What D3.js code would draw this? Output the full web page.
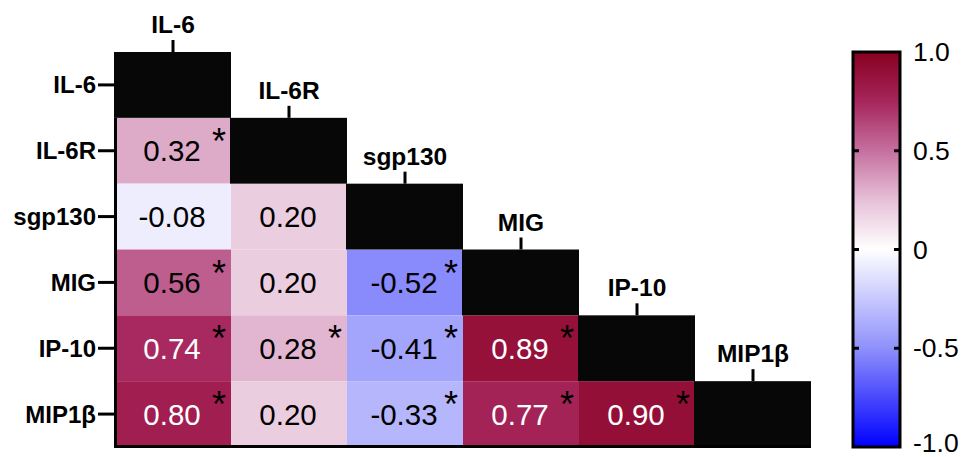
<!DOCTYPE html>
<html>
<head>
<meta charset="utf-8">
<script src="https://cdn.jsdelivr.net/npm/d3@7"></script>
<style>
  body { margin: 0; background: #fff; }
  text { font-family: "Liberation Sans", Arial, sans-serif; }
</style>
</head>
<body>
<svg id="chart" width="968" height="457"></svg>
<script>
// variables, same order on both axes
var labels = ['IL-6', 'IL-6R', 'sgp130', 'MIG', 'IP-10', 'MIP1\u03b2'];

// lower triangle, one row per variable (row i has i values)
var rowIL6R = [0.32];
var rowSgp130 = [-0.08, 0.20];
var rowMIG = [0.56, 0.20, -0.52];
var rowIP10 = [0.74, 0.28, -0.41, 0.89];
var rowMIP1b = [0.80, 0.20, -0.33, 0.77, 0.90];

// significance stars, same shape
var sigIL6R = [true];
var sigSgp130 = [false, false];
var sigMIG = [true, false, true];
var sigIP10 = [true, true, true, true];
var sigMIP1b = [true, false, true, true, true];

var colorTicks = [1.0, 0.5, 0, -0.5, -1.0];

var rows = [[], rowIL6R, rowSgp130, rowMIG, rowIP10, rowMIP1b];
var sigs = [[], sigIL6R, sigSgp130, sigMIG, sigIP10, sigMIP1b];

var cells = [];
rows.forEach(function(vals, i) {
  vals.forEach(function(v, j) {
    cells.push({ row: labels[i], col: labels[j], value: v, sig: sigs[i][j] });
  });
});

// plain hyphen for negatives, like the original
function fmt(v, p) {
  return d3.format('.' + p + 'f')(v).replace('\u2212', '-');
}

var svg = d3.select('#chart');

var x = d3.scaleBand().domain(labels).range([115, 811]);
var y = d3.scaleBand().domain(labels).range([52, 447]);

var color = d3.scaleLinear()
  .domain([-1, -0.5, 0, 0.25, 0.5, 0.75, 1])
  .range(['#0000ff', '#8f90fb', '#ffffff', '#e6c0d8', '#c5709f', '#a6265c', '#880020'])
  .clamp(true);

// coloured cells
var g = svg.append('g');
g.selectAll('rect.cell')
  .data(cells)
  .enter()
  .append('rect')
  .attr('class', 'cell')
  .attr('x', function(d) { return x(d.col); })
  .attr('y', function(d) { return y(d.row); })
  .attr('width', x.bandwidth())
  .attr('height', y.bandwidth())
  .attr('fill', function(d) { return color(d.value); });

// diagonal black cells
g.selectAll('rect.diag')
  .data(labels)
  .enter()
  .append('rect')
  .attr('class', 'diag')
  .attr('x', function(d) { return x(d) - 1; })
  .attr('y', function(d) { return y(d); })
  .attr('width', x.bandwidth() + 1)
  .attr('height', y.bandwidth())
  .attr('fill', '#070707');

// values
g.selectAll('text.val')
  .data(cells)
  .enter()
  .append('text')
  .attr('class', 'val')
  .attr('x', function(d) { return x(d.col) + x.bandwidth() / 2 - 1; })
  .attr('y', function(d) { return y(d.row) + y.bandwidth() / 2 + 10.5; })
  .attr('text-anchor', 'middle')
  .attr('font-size', 29.5)
  .attr('fill', function(d) { return Math.abs(d.value) >= 0.7 ? '#fff' : '#000'; })
  .text(function(d) { return fmt(d.value, 2); });

g.selectAll('text.star')
  .data(cells.filter(function(d) { return d.sig; }))
  .enter()
  .append('text')
  .attr('class', 'star')
  .attr('x', function(d) { return x(d.col) + x.bandwidth() - 12; })
  .attr('y', function(d) { return y(d.row) + 36; })
  .attr('text-anchor', 'middle')
  .attr('font-size', 36)
  .attr('fill', '#000')
  .text('*');

// axis lines
svg.append('line')
  .attr('x1', 115.5).attr('x2', 115.5)
  .attr('y1', y(labels[1])).attr('y2', 448)
  .attr('stroke', '#000').attr('stroke-width', 3);
svg.append('line')
  .attr('x1', 114).attr('x2', 811)
  .attr('y1', 446.5).attr('y2', 446.5)
  .attr('stroke', '#000').attr('stroke-width', 3);

// row labels with ticks
var rowLab = svg.append('g');
labels.forEach(function(l) {
  var cy = y(l) + y.bandwidth() / 2;
  rowLab.append('line')
    .attr('x1', 98).attr('x2', 115)
    .attr('y1', cy).attr('y2', cy)
    .attr('stroke', '#000').attr('stroke-width', 3);
  rowLab.append('text')
    .attr('x', 96)
    .attr('y', cy + 8.5)
    .attr('text-anchor', 'end')
    .attr('font-size', 24)
    .attr('font-weight', 'bold')
    .text(l);
});

// column labels above the diagonal
labels.forEach(function(l) {
  var cx = x(l) + x.bandwidth() / 2;
  var top = y(l);
  svg.append('line')
    .attr('x1', cx).attr('x2', cx)
    .attr('y1', top - 12).attr('y2', top)
    .attr('stroke', '#000').attr('stroke-width', 3);
  svg.append('text')
    .attr('x', cx)
    .attr('y', top - 19)
    .attr('text-anchor', 'middle')
    .attr('font-size', 24.5)
    .attr('font-weight', 'bold')
    .text(l);
});

// colour bar
var barX = 853, barW = 47;
var cy = d3.scaleLinear().domain([-1, 1]).range([447, 52]);
var defs = svg.append('defs');
var grad = defs.append('linearGradient')
  .attr('id', 'grad')
  .attr('x1', 0).attr('x2', 0).attr('y1', 1).attr('y2', 0);
d3.range(-1, 1.001, 0.125).forEach(function(v) {
  grad.append('stop')
    .attr('offset', ((v + 1) / 2 * 100) + '%')
    .attr('stop-color', color(v));
});
svg.append('rect')
  .attr('x', barX).attr('y', cy(1))
  .attr('width', barW).attr('height', cy(-1) - cy(1))
  .attr('fill', 'url(#grad)')
  .attr('stroke', '#000').attr('stroke-width', 3);

var legAxis = svg.append('g');
colorTicks.forEach(function(t) {
  if (Math.abs(t) < 1) {
    legAxis.append('line')
      .attr('x1', barX).attr('x2', barX + 6)
      .attr('y1', cy(t)).attr('y2', cy(t))
      .attr('stroke', '#000').attr('stroke-width', 3);
    legAxis.append('line')
      .attr('x1', barX + barW - 6).attr('x2', barX + barW)
      .attr('y1', cy(t)).attr('y2', cy(t))
      .attr('stroke', '#000').attr('stroke-width', 3);
  }
  legAxis.append('text')
    .attr('x', 913)
    .attr('y', Math.min(cy(t) + 9, 452))
    .attr('font-size', 26.5)
    .text(t === 0 ? '0' : fmt(t, 1));
});
</script>
</body>
</html>
